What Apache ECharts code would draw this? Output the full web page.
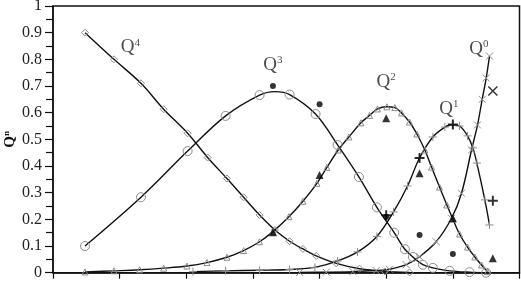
<!DOCTYPE html>
<html><head><meta charset="utf-8">
<script src="https://cdn.jsdelivr.net/npm/echarts@6/dist/echarts.min.js"></script>
<style>html,body{margin:0;padding:0;background:#fff}#c{width:521px;height:283px}</style>
</head><body><div id="c"></div>
<script>
// Model curves (x in arbitrary axis units 0..7, y = Q^n fraction); points carrying markers
const q4 = [[0.48,0.90],[0.915,0.80],[1.32,0.71],[1.66,0.613],[2.02,0.523],[2.32,0.432],[2.61,0.353],[2.86,0.283],[3.10,0.216],[3.33,0.16],[3.55,0.118],[3.75,0.089],[3.95,0.063],[4.25,0.035],[4.6,0.015],[4.98,0.005],[5.35,0.001]];
const q3 = [[0.48,0.10],[1.32,0.283],[2.02,0.456],[2.59,0.588],[3.10,0.666],[3.55,0.668],[3.94,0.595],[4.27,0.479],[4.59,0.359],[4.86,0.245],[5.12,0.15],[5.28,0.088],[5.40,0.059],[5.55,0.03],[5.70,0.018],[5.95,0.007],[6.25,0.002],[6.5,0.0]];
const q2 = [[0.48,0.003],[0.915,0.007],[1.30,0.011],[1.66,0.017],[2.01,0.025],[2.31,0.038],[2.61,0.058],[2.86,0.083],[3.10,0.116],[3.30,0.154],[3.54,0.21],[3.75,0.268],[3.96,0.335],[4.11,0.395],[4.28,0.46],[4.44,0.509],[4.62,0.562],[4.75,0.59],[4.87,0.614],[5.01,0.622],[5.13,0.619],[5.23,0.599],[5.35,0.565],[5.46,0.52],[5.58,0.46],[5.68,0.396],[5.80,0.321],[5.91,0.254],[6.0,0.201],[6.10,0.145],[6.22,0.096],[6.33,0.059],[6.43,0.029],[6.52,0.004]];
const q1 = [[2.1,0.004],[2.59,0.007],[3.10,0.009],[3.55,0.012],[3.93,0.02],[4.27,0.044],[4.57,0.078],[4.86,0.136],[5.11,0.228],[5.32,0.325],[5.50,0.43],[5.70,0.509],[5.88,0.546],[6.0,0.554],[6.10,0.55],[6.22,0.513],[6.30,0.468],[6.36,0.411],[6.48,0.273],[6.55,0.179]];
const q0 = [[3.7,0.001],[4.1,0.002],[4.5,0.004],[4.85,0.008],[5.05,0.013],[5.3,0.03],[5.50,0.06],[5.75,0.116],[5.98,0.204],[6.13,0.298],[6.28,0.46],[6.37,0.554],[6.44,0.65],[6.50,0.73],[6.55,0.812]];
// Extra curve points read off the lines where no marker is drawn
const q3LineOnly = [[3.33,0.679]];
const q1LineOnly = [[5.95,0.553]];
// Experimental points
const expQ3 = [[3.3,0.70],[4.0,0.632],[5.0,0.21],[5.5,0.141],[6.0,0.07]];
const expQ2 = [[3.3,0.152],[4.0,0.366],[5.0,0.579],[5.5,0.373],[6.0,0.204],[6.6,0.054]];
const expQ1 = [[5.0,0.215],[5.5,0.43],[6.0,0.556],[6.6,0.27]];
const expQ0 = [[6.6,0.681]];
// Curve labels: [x, y, superscript]
const curveLabels = [[1.16,0.845,'4'],[3.3,0.78,'3'],[5.0,0.715,'2'],[5.94,0.614,'1'],[6.39,0.839,'0']];
const yTicks = [0,0.1,0.2,0.3,0.4,0.5,0.6,0.7,0.8,0.9,1];

const PLUS = 'path://M0,5L10,5M5,0L5,10';
const CROSS = 'path://M0,0L10,10M10,0L0,10';
const gray = '#8c8c8c';
const serif = 'Liberation Serif';

function merge(marked, lineOnly) {
  const pts = marked.map(function (p) { return {value: p}; })
    .concat((lineOnly || []).map(function (p) { return {value: p, symbol: 'none'}; }));
  pts.sort(function (a, b) { return a.value[0] - b.value[0]; });
  return pts;
}
function model(data, lineOnly, symbol, size) {
  return {
    type: 'line', data: merge(data, lineOnly), smooth: 0.35,
    symbol: symbol, symbolSize: size, showAllSymbol: true,
    lineStyle: {color: '#111', width: 1.4},
    itemStyle: {color: 'rgba(0,0,0,0)', borderColor: gray, borderWidth: 1},
    z: 2, animation: false
  };
}
function exp(data, symbol, size, filled, bw) {
  return {
    type: 'scatter', data: data, symbol: symbol, symbolSize: size,
    itemStyle: filled ? {color: '#000'} : {color: 'rgba(0,0,0,0)', borderColor: '#000', borderWidth: bw},
    z: 4, animation: false
  };
}

const chart = echarts.init(document.getElementById('c'), null, {renderer: 'canvas'});
chart.setOption({
  animation: false,
  backgroundColor: '#fff',
  grid: {left: 53, right: 1.5, top: 6, bottom: 10.3, outerBoundsMode: 'none', containLabel: false,
         show: true, borderColor: '#111', borderWidth: 1.5, backgroundColor: 'rgba(0,0,0,0)'},
  xAxis: {
    type: 'value', min: 0, max: 7, interval: 1,
    axisLine: {lineStyle: {color: '#111', width: 1.5}},
    axisTick: {show: true, inside: false, length: 6, lineStyle: {color: '#111', width: 1.2}},
    axisLabel: {show: false}, splitLine: {show: false}
  },
  yAxis: {
    type: 'value', min: 0, max: 1, interval: 0.1,
    name: '{q|Q}{s|n}', nameLocation: 'middle', nameGap: 35, nameRotate: 90, nameMoveOverlap: false,
    nameTextStyle: {rich: {
      q: {fontFamily: serif, fontWeight: 'bold', fontSize: 15, color: '#111', lineHeight: 16},
      s: {fontFamily: serif, fontWeight: 'bold', fontSize: 9, color: '#111', lineHeight: 10, verticalAlign: 'top'}
    }},
    axisLine: {lineStyle: {color: '#111', width: 1.5}},
    axisTick: {show: true, inside: false, length: 8, lineStyle: {color: '#111', width: 1.2}},
    minorTick: {show: true, splitNumber: 2, length: 7, lineStyle: {color: '#111', width: 1.2}},
    axisLabel: {
      margin: 11, fontFamily: serif, fontSize: 16, color: '#222',
      formatter: function (v) { const t = yTicks.find(function (k) { return Math.abs(k - v) < 1e-6; }); return t === 0 ? '0' : t === 1 ? '1' : t.toFixed(1); }
    },
    splitLine: {show: false}
  },
  series: [
    model(q4, null, 'diamond', 7),
    model(q3, q3LineOnly, 'circle', 9),
    model(q2, null, 'triangle', 6),
    model(q1, q1LineOnly, PLUS, 8),
    model(q0, null, CROSS, 7),
    exp(expQ3, 'circle', 6, true),
    exp(expQ2, 'triangle', 8, true),
    exp(expQ1, PLUS, 10, false, 2),
    exp(expQ0, CROSS, 9, false, 1.5),
    {
      type: 'scatter', data: curveLabels, symbolSize: 0, z: 5, animation: false,
      label: {
        show: true, position: 'inside',
        formatter: function (p) { return '{q|Q}{s|' + p.data[2] + '}'; },
        rich: {
          q: {fontFamily: serif, fontSize: 19, color: '#222', lineHeight: 20},
          s: {fontFamily: serif, fontSize: 11, color: '#222', lineHeight: 12, verticalAlign: 'top'}
        }
      }
    }
  ]
});
</script></body></html>
